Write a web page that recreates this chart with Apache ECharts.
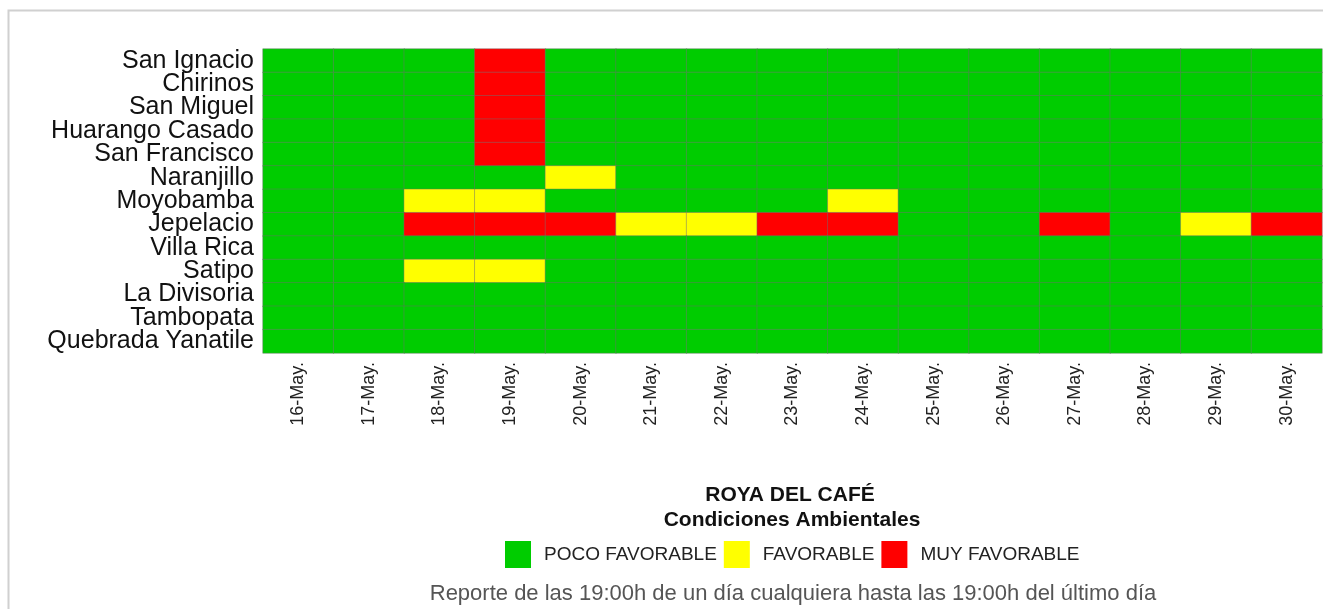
<!DOCTYPE html>
<html>
<head>
<meta charset="utf-8">
<script src="https://cdn.jsdelivr.net/npm/echarts@6/dist/echarts.min.js"></script>
<style>html,body{margin:0;padding:0;background:#fff}#c{width:1323px;height:609px}</style>
</head>
<body>
<div id="c"></div>
<script>
const dates = ['16-May.','17-May.','18-May.','19-May.','20-May.','21-May.','22-May.','23-May.','24-May.','25-May.','26-May.','27-May.','28-May.','29-May.','30-May.'];
const stations = ['San Ignacio','Chirinos','San Miguel','Huarango Casado','San Francisco','Naranjillo','Moyobamba','Jepelacio','Villa Rica','Satipo','La Divisoria','Tambopata','Quebrada Yanatile'];
// 0 = POCO FAVORABLE, 1 = FAVORABLE, 2 = MUY FAVORABLE
const levels = [
  [0,0,0,2,0,0,0,0,0,0,0,0,0,0,0],
  [0,0,0,2,0,0,0,0,0,0,0,0,0,0,0],
  [0,0,0,2,0,0,0,0,0,0,0,0,0,0,0],
  [0,0,0,2,0,0,0,0,0,0,0,0,0,0,0],
  [0,0,0,2,0,0,0,0,0,0,0,0,0,0,0],
  [0,0,0,0,1,0,0,0,0,0,0,0,0,0,0],
  [0,0,1,1,0,0,0,0,1,0,0,0,0,0,0],
  [0,0,2,2,2,1,1,2,2,0,0,2,0,1,2],
  [0,0,0,0,0,0,0,0,0,0,0,0,0,0,0],
  [0,0,1,1,0,0,0,0,0,0,0,0,0,0,0],
  [0,0,0,0,0,0,0,0,0,0,0,0,0,0,0],
  [0,0,0,0,0,0,0,0,0,0,0,0,0,0,0],
  [0,0,0,0,0,0,0,0,0,0,0,0,0,0,0]
];
const levelLabels = ['POCO FAVORABLE','FAVORABLE','MUY FAVORABLE'];
const levelColors = ['#00cc00','#ffff00','#ff0000'];
const titleText = 'ROYA DEL CAFÉ';
const subtitleText = 'Condiciones Ambientales';
const footerText = 'Reporte de las 19:00h de un día cualquiera hasta las 19:00h del último día';

const data = [];
levels.forEach((row, yi) => row.forEach((v, xi) => data.push([xi, yi, v])));

const chart = echarts.init(document.getElementById('c'), null, {renderer:'canvas'});
const FONT = 'Liberation Sans, Arial, sans-serif';
chart.setOption({
  animation: false,
  backgroundColor: '#fff',
  grid: {left: 263, right: 1, top: 49, bottom: 256, containLabel: false},
  xAxis: {
    type: 'category', data: dates, position: 'bottom',
    axisLine: {show: false}, axisTick: {show: false}, splitLine: {show: false},
    axisLabel: {rotate: 90, margin: 9, fontSize: 18, color: '#222', fontFamily: FONT, interval: 0}
  },
  yAxis: {
    type: 'category', data: stations, inverse: true,
    axisLine: {show: false}, axisTick: {show: false}, splitLine: {show: false},
    axisLabel: {margin: 9, fontSize: 25, color: '#111', fontFamily: FONT, interval: 0}
  },
  visualMap: {
    type: 'piecewise', orient: 'horizontal', left: 490, top: 526,
    itemWidth: 26, itemHeight: 27, itemGap: 7, itemSymbol: 'rect', textGap: 13, align: 'left',
    selectedMode: false, showLabel: true,
    textStyle: {fontSize: 19, color: '#222', fontFamily: FONT},
    pieces: levelLabels.map((l, i) => ({value: i, label: l, color: levelColors[i]}))
  },
  graphic: [
    {type: 'rect', shape: {x: 8.5, y: 10.5, width: 1400, height: 700}, style: {fill: 'none', stroke: '#d0d0d0', lineWidth: 2}, silent: true, z: -1},
    {type: 'text', x: 790, y: 495, style: {text: titleText, font: 'bold 21px ' + FONT, fill: '#111', align: 'center', verticalAlign: 'middle', textAlign: 'center', textVerticalAlign: 'middle'}},
    {type: 'text', x: 792, y: 520, style: {text: subtitleText, font: 'bold 21px ' + FONT, fill: '#111', align: 'center', verticalAlign: 'middle', textAlign: 'center', textVerticalAlign: 'middle'}},
    {type: 'text', x: 793, y: 594, style: {text: footerText, font: '22px ' + FONT, fill: '#555', align: 'center', verticalAlign: 'middle', textAlign: 'center', textVerticalAlign: 'middle'}}
  ],
  series: [{
    type: 'heatmap', data: data,
    itemStyle: {borderColor: 'rgba(110,110,110,0.45)', borderWidth: 1},
    emphasis: {disabled: true}, label: {show: false}
  }]
});
</script>
</body>
</html>
